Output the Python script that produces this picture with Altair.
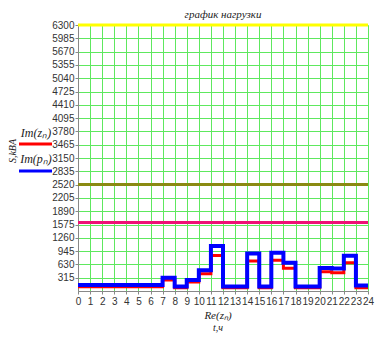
import altair as alt
import pandas as pd

hours = list(range(25))
im_p = [140, 140, 140, 140, 140, 140, 140, 315, 105, 260, 490, 1065, 105, 105,
        890, 105, 905, 667, 105, 105, 545, 530, 835, 130]
im_z = [100, 100, 100, 100, 100, 100, 100, 260, 76, 214, 407, 843, 76, 76,
        713, 76, 729, 536, 76, 76, 453, 430, 667, 76]
hline_vals = [6300, 2520, 1620]
hline_colors = ["#ffff00", "#8a8a12", "#ee1177"]
y_ticks = [315 * i for i in range(1, 21)]
x_ticks = list(range(25))

rows = []
for i, h in enumerate(hours):
    k = min(i, 23)
    rows.append({"t": h, "v": im_z[k], "s": "z"})
for i, h in enumerate(hours):
    k = min(i, 23)
    rows.append({"t": h, "v": im_p[k], "s": "p"})
df = pd.DataFrame(rows)
hdf = pd.DataFrame({"y": hline_vals, "c": hline_colors})

W, H = 290, 266
xs = alt.Scale(domain=[0, 24], nice=False)
ys = alt.Scale(domain=[0, 6300], nice=False)

x_axis = alt.Axis(values=x_ticks, title=None, grid=True, gridColor="#5ee85e",
                  domainColor="#888888", tickColor="#888888", tickSize=3,
                  labelFont="Liberation Sans", labelFontSize=10, labelColor="#333333",
                  labelPadding=2, labelFlush=False, labelOverlap=False, format="d")
y_axis = alt.Axis(values=y_ticks, title=None, grid=True, gridColor="#5ee85e",
                  domainColor="#888888", tickColor="#888888", tickSize=3,
                  labelFont="Liberation Sans", labelFontSize=10, labelColor="#333333",
                  labelPadding=1, labelOverlap=False, labelFlush=False, format="d")

base = alt.Chart(df).encode(
    x=alt.X("t:Q", scale=xs, axis=x_axis),
    y=alt.Y("v:Q", scale=ys, axis=y_axis),
)

red = base.transform_filter(alt.datum.s == "z").mark_line(
    interpolate="step-after", color="#ff0000", strokeWidth=3)
blue = base.transform_filter(alt.datum.s == "p").mark_line(
    interpolate="step-after", color="#0000ff", strokeWidth=4)

hl = alt.Chart(hdf).mark_rule(strokeWidth=3).encode(
    y=alt.Y("y:Q", scale=ys, axis=y_axis),
    color=alt.Color("c:N", scale=None),
)

def txt(s, x, y, size=11, angle=0, italic=True):
    return alt.Chart(pd.DataFrame({"s": [s]})).mark_text(
        font="Liberation Serif", fontStyle="italic" if italic else "normal",
        fontSize=size, color="#222222", angle=angle, baseline="middle", align="center"
    ).encode(text="s:N", x=alt.value(x), y=alt.value(y))

def leg(color, y):
    return alt.Chart(pd.DataFrame({"a": [0]})).mark_rule(color=color, strokeWidth=3).encode(
        x=alt.value(-59), x2=alt.value(-26), y=alt.value(y))

layers = [
    hl, red, blue,
    txt("график нагрузки", 145, -10, 11),
    txt("Im(zₙ)", -42, 108, 12),
    txt("Im(pₙ)", -42, 134, 12),
    leg("#ff0000", 119), leg("#0000ff", 146),
    txt("S,kBA", -65, 126, 10, angle=270),
    txt("Re(zₙ)", 140, 291, 11),
    txt("t,ч", 140, 303, 10),
]

chart = alt.layer(*layers).properties(
    width=W, height=H,
    autosize=alt.AutoSizeParams(type="none"),
    padding={"left": 70, "top": 17, "right": 15, "bottom": 50},
).configure_view(stroke=None).configure(background="white")

chart.save("out.html", embed_options={"renderer": "svg", "actions": False})
